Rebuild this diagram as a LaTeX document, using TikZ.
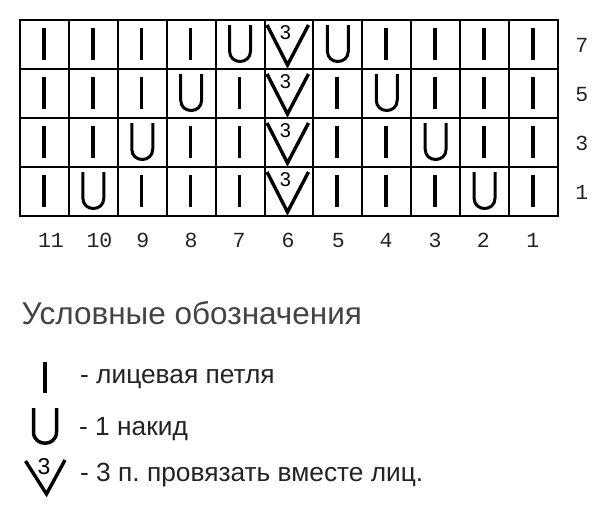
\documentclass[tikz,border=0pt]{standalone}
\usepackage{fontspec}
\setmainfont{Liberation Sans}
\newfontfamily\monofont{Liberation Mono}
\definecolor{txt}{RGB}{35,35,35}
\frenchspacing
\newcommand\symbar[2]{\draw[knit] ({#1-0.6},{#2+7.7}) -- ({#1-0.6},{#2+40.3});}
\newcommand\symyo[2]{\draw[yo] ({#1-10.5},{#2+5}) -- ({#1-10.5},{#2+31}) .. controls ({#1-10.5},{#2+45}) and ({#1+10.5},{#2+45}) .. ({#1+10.5},{#2+31}) -- ({#1+10.5},{#2+5});}
\newcommand\symdec[2]{\draw[dec] ({#1+2.5},{#2+5}) -- ({#1+23},{#2+45}) -- ({#1+44},{#2+5});
  \node[three] at ({#1+21},{#2+13}) {3};}
\begin{document}
\begin{tikzpicture}[x=1pt,y=-1pt,
  gridline/.style={line width=2pt},
  knit/.style={line width=3.6pt},
  yo/.style={line width=3pt},
  dec/.style={line width=3.4pt, line join=miter},
  num/.style={font=\monofont\fontsize{21.5}{21.5}\selectfont, text=txt, inner sep=0, anchor=base},
  lab/.style={font=\fontsize{26.3}{26.3}\selectfont, text=txt, inner sep=0, anchor=base west},
  ttl/.style={font=\fontsize{31.5}{31.5}\selectfont, text=txt!85!white, inner sep=0, anchor=base west},
  three/.style={font=\fontsize{20}{20}\selectfont, inner sep=0}]
\useasboundingbox (0,0) rectangle (600,523);
\fill[white] (0,0) rectangle (600,523);
\def\cw{48.9}\def\ch{49}
% grid
\foreach \i in {1,...,10} \draw[gridline] ({20+\i*\cw},20) -- ({20+\i*\cw},216);
\foreach \j in {1,...,3} \draw[gridline] (20,{20+\j*\ch}) -- (557.9,{20+\j*\ch});
\draw[gridline] (20,20) rectangle (557.9,216);
% symbols
\foreach \r in {0,...,3} {
  \foreach \c in {0,...,10} {
    \pgfmathsetmacro\cl{20+\c*\cw}
    \pgfmathsetmacro\cx{20+\c*\cw+\cw/2}
    \pgfmathsetmacro\tp{20+\r*\ch}
    \pgfmathtruncatemacro\ua{4-\r}
    \pgfmathtruncatemacro\ub{6+\r}
    \ifnum\c=5
      \symdec{\cl}{\tp}
    \else\ifnum\c=\ua
      \symyo{\cx}{\tp}
    \else\ifnum\c=\ub
      \symyo{\cx}{\tp}
    \else
      \symbar{\cx}{\tp}
    \fi\fi\fi
  }
}
% column numbers
\foreach \x/\t in {51/11, 99.5/10, 142.7/9, 191/8, 239/7, 288/6, 338.3/5, 386/4, 435/3, 483.3/2, 532.7/1}
  \node[num] (c\t) at (\x,247.5) {\t};
% row numbers
\foreach \y/\t in {52.5/7, 101.5/5, 150.5/3, 199.5/1}
  \node[num] (r\t) at (581.7,\y) {\t};
% legend
\node[ttl] (title) at (21.5,324.3) {Условные обозначения};
\draw[line width=4pt] (45,362) -- (45,393);
\node[lab] (l1) at (80,383.3) {- лицевая петля};
\draw[line width=3.5pt] (33.5,408) -- (33.5,432) .. controls (33.5,447) and (56.5,447) .. (56.5,432) -- (56.5,408);
\node[lab] (l2) at (79,435) {- 1 накид};
\draw[dec] (25.5,461) -- (46.5,494) -- (65,460);
\node[font=\fontsize{23}{23}\selectfont, inner sep=0] (l3s) at (44,467) {3};
\node[lab] (l3) at (80,481.7) {- 3 п. провязать вместе лиц.};
\end{tikzpicture}
\end{document}
